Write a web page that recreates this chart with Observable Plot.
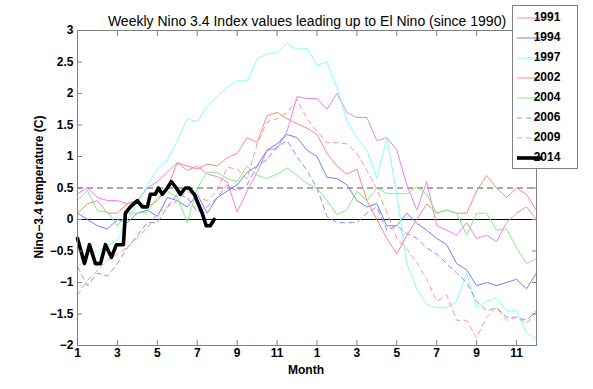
<!DOCTYPE html>
<html><head><meta charset="utf-8">
<script src="https://cdn.jsdelivr.net/npm/d3@7"></script>
<script src="https://cdn.jsdelivr.net/npm/@observablehq/plot@0.6"></script>
<style>
body{margin:0;background:#fff;}
svg{font-family:"Liberation Sans",Arial,sans-serif;}
svg g[aria-label$="tick label"]{font-weight:bold;}
</style>
</head><body><div id="chart"></div>
<script>
const titleText = "Weekly Nino 3.4 Index values leading up to El Nino (since 1990)";
const xLabel = "Month";
const yLabel = "Nino\u22123.4 temperature (C)";

const months = [1,1.5,2,2.5,3,3.5,4,4.5,5,5.5,6,6.5,7,7.5,8,8.5,9,9.5,10,10.5,11,11.5,12,12.5,13,13.5,14,14.5,15,15.5,16,16.5,17,17.5,18,18.5,19,19.5,20,20.5,21,21.5,22,22.5,23,23.5,24];

const v1991 = [0.41,0.5,0.35,0.3,0.3,0.25,0.3,0.5,0.6,0.75,0.9,0.78,0.85,0.72,0.68,0.6,0.12,0.45,0.75,1.1,1.13,1.4,1.95,1.92,1.92,1.75,2.0,1.7,1.62,1.62,1.25,1.3,1.1,0.55,0.15,0.6,-0.1,-0.17,-0.25,-0.05,-0.3,-0.25,-0.35,-0.05,0.1,0.2,0.0];
const v1994 = [0.1,0.0,-0.1,-0.15,0.0,-0.05,0.1,0.15,0.05,0.35,0.3,0.2,0.4,0.1,0.35,0.45,0.55,0.75,0.85,1.1,1.2,1.35,1.3,1.1,1.0,0.67,0.65,0.55,0.3,0.2,0.25,-0.1,-0.1,0.1,-0.06,-0.17,-0.3,-0.4,-0.7,-0.8,-1.05,-1.0,-1.05,-1.0,-0.95,-1.1,-0.85];
const v1997 = [-0.76,-0.57,-0.5,-0.41,-0.33,0.0,0.25,0.55,0.8,0.95,1.25,1.6,1.55,1.8,1.95,2.1,2.2,2.2,2.55,2.63,2.65,2.8,2.7,2.72,2.45,2.5,2.1,1.57,1.3,1.1,0.65,1.3,0.4,-0.7,-1.1,-1.35,-1.4,-1.4,-1.3,-0.85,-1.4,-1.3,-1.25,-1.45,-1.45,-1.8,-1.9];
const v2002 = [0.1,0.25,0.3,0.1,0.1,0.25,0.3,0.2,0.3,0.5,0.9,0.85,0.8,0.88,0.85,0.98,1.05,1.3,1.22,1.65,1.7,1.6,1.52,1.45,1.35,1.05,0.85,0.72,0.8,0.3,0.0,-0.3,-0.55,-0.25,0.0,0.25,0.1,0.15,0.1,0.1,0.45,0.7,0.5,0.35,0.5,0.4,0.14];
const v2004 = [0.3,0.46,0.14,0.12,-0.1,0.1,0.1,0.12,0.35,0.45,0.35,-0.05,0.5,0.75,0.75,0.65,0.6,0.85,0.7,0.65,0.72,0.82,0.7,0.57,0.5,0.3,0.08,0.15,0.45,0.3,0.5,0.41,0.41,0.41,0.52,0.4,0.1,0.15,0.1,-0.25,0.1,0.1,-0.17,-0.15,-0.45,-0.7,-0.62];
const v2006 = [-0.75,-1.05,-0.85,-0.9,-0.7,-0.45,-0.25,-0.05,-0.05,0.2,0.4,0.35,0.12,0.2,0.35,0.55,0.45,0.55,0.85,0.95,1.15,1.25,1.0,0.78,0.5,0.05,-0.05,-0.05,-0.05,0.1,0.2,-0.17,-0.1,-0.22,-0.3,-0.45,-0.55,-0.7,-0.85,-1.0,-1.3,-1.45,-1.4,-1.55,-1.55,-1.6,-1.45];
const v2009 = [-1.2,-0.97,-0.81,-0.65,-0.55,-0.44,-0.29,-0.13,0.1,0.2,0.3,0.45,0.35,0.3,0.46,0.83,0.8,0.65,1.2,1.55,1.6,1.7,1.9,1.6,1.4,1.22,1.22,1.2,1.05,0.78,0.48,0.12,-0.3,-0.47,-0.68,-0.95,-1.3,-1.2,-1.6,-1.6,-1.88,-1.55,-1.4,-1.6,-1.55,-1.65,-1.45];

const months2014 = [1.0,1.35,1.6,1.9,2.15,2.4,2.7,2.95,3.2,3.3,3.4,3.65,4.0,4.25,4.5,4.65,4.9,5.05,5.25,5.5,5.7,5.95,6.15,6.4,6.6,6.85,7.05,7.25,7.45,7.65,7.85];
const v2014 = [-0.3,-0.7,-0.4,-0.7,-0.7,-0.4,-0.6,-0.4,-0.4,-0.4,0.1,0.2,0.3,0.2,0.2,0.4,0.4,0.5,0.4,0.5,0.6,0.5,0.4,0.5,0.5,0.4,0.25,0.1,-0.1,-0.1,0.0];

const seriesNames = ["1991","1994","1997","2002","2004","2006","2009","2014"];
const seriesColors = ["#f080f0","#6f80f5","#80ffff","#ff8a80","#80f080","#8c8cff","#ff9a90","#000000"];
const seriesDash = [null,null,null,null,null,"5,4","5,4",null];
const seriesValues = [v1991,v1994,v1997,v2002,v2004,v2006,v2009,v2014];

const xTicks = [1,3,5,7,9,11,13,15,17,19,21,23];
const xTickLabels = ["1","3","5","7","9","11","1","3","5","7","9","11"];
const yTicks = [-2,-1.5,-1,-0.5,0,0.5,1,1.5,2,2.5,3];
const refLines = [0, 0.5];

const xLabelMap = new Map(xTicks.map((t,i)=>[t, xTickLabels[i]]));
const yFmt = d => d < 0 ? "\u2212" + (-d) : String(d);

const lineMarks = seriesNames.map((name, i) => {
  const xs = name === "2014" ? months2014 : months;
  const data = seriesValues[i].map((v, j) => ({month: xs[j], value: v}));
  return Plot.line(data, {
    x: "month", y: "value",
    stroke: seriesColors[i],
    strokeWidth: name === "2014" ? 3.6 : 1,
    strokeDasharray: seriesDash[i] || undefined
  });
});

const chart = Plot.plot({
  width: 593, height: 389,
  marginLeft: 77, marginRight: 57, marginTop: 30, marginBottom: 44,
  style: {fontFamily: "Liberation Sans, Arial, sans-serif", fontSize: "12px", background: "#fff", color: "#000"},
  x: {domain: [1, 24]},
  y: {domain: [-2, 3]},
  marks: [
    Plot.ruleY([refLines[0]], {stroke: "#000", strokeWidth: 1}),
    Plot.ruleY([refLines[1]], {stroke: "#555", strokeWidth: 1.2, strokeDasharray: "6,4"}),
    ...lineMarks,
    Plot.frame({stroke: "#808080"}),
    Plot.axisX({anchor: "bottom", ticks: xTicks, tickSize: -5, tickPadding: 8, tickFormat: d => xLabelMap.get(d), stroke: "#808080", label: null}),
    Plot.axisX({anchor: "top", ticks: xTicks, tickSize: -5, tickFormat: () => "", stroke: "#808080", label: null}),
    Plot.axisY({anchor: "left", ticks: yTicks, tickSize: -5, tickPadding: 9, tickFormat: yFmt, stroke: "#808080", label: null}),
    Plot.axisY({anchor: "right", ticks: yTicks, tickSize: -5, tickFormat: () => "", stroke: "#808080", label: null}),
    Plot.text([titleText], {frameAnchor: "top", dy: -14, fontSize: 14})
  ]
});
document.getElementById("chart").appendChild(chart);

const svg = d3.select(chart);
svg.append("text").attr("x", 306).attr("y", 371).attr("text-anchor", "middle")
  .attr("dominant-baseline", "middle").attr("font-weight", "bold").attr("font-size", 12).text(xLabel);
svg.append("text").attr("transform", "translate(40,187) rotate(-90)").attr("text-anchor", "middle")
  .attr("dominant-baseline", "middle").attr("font-weight", "bold").attr("font-size", 12).text(yLabel);

const lg = svg.append("g");
lg.append("rect").attr("x", 512.5).attr("y", 5.5).attr("width", 65).attr("height", 163)
  .attr("fill", "#fff").attr("stroke", "#808080");
seriesNames.forEach((name, i) => {
  const y = 18 + i * 20;
  lg.append("line").attr("x1", 517).attr("x2", 542).attr("y1", y).attr("y2", y)
    .attr("stroke", seriesColors[i]).attr("stroke-width", name === "2014" ? 3.6 : 1)
    .attr("stroke-dasharray", seriesDash[i]);
  lg.append("text").attr("x", 547).attr("y", y).attr("dominant-baseline", "middle")
    .attr("font-weight", "bold").attr("font-size", 12).text(name);
});
</script>
</body></html>
